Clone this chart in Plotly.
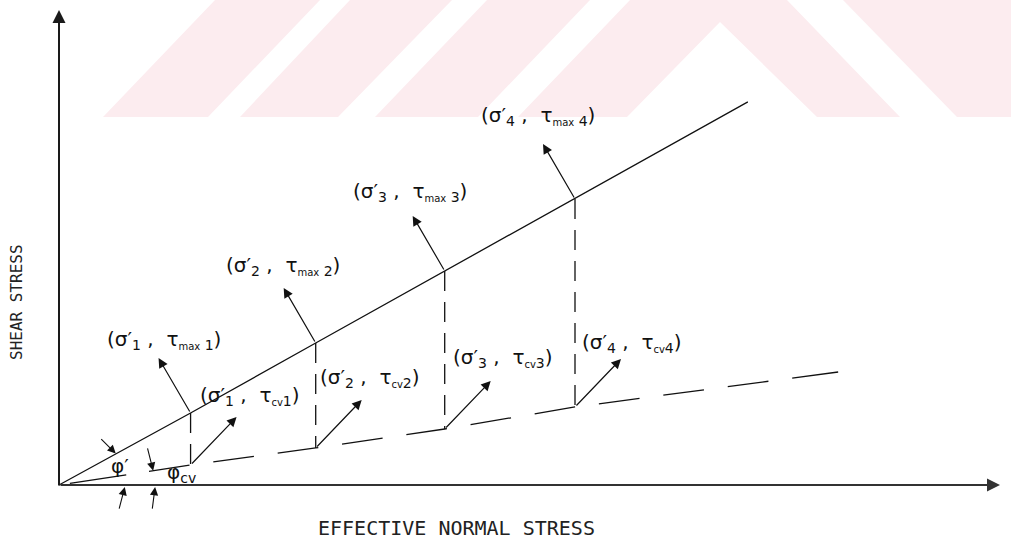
import plotly.graph_objects as go

# ---- data: effective normal stress and shear stresses at four tests ----
sigma = [1.02, 1.99, 2.99, 4.0]           # effective normal stress
tau_max = [0.558, 1.101, 1.659, 2.217]    # peak shear stress
tau_cv = [0.155, 0.287, 0.434, 0.605]     # constant-volume shear stress
test_ids = ["1", "2", "3", "4"]

env_end = (5.34, 2.97)    # far end of the peak envelope
cv_end = (6.04, 0.876)    # far end of the constant-volume envelope

# ---- layout constants ----
W, H = 1011, 539
PX = 129.0                 # pixels per stress unit on both axes
X0, Y0 = 59, 485           # origin in pixels
xr = [-X0 / PX, (W - X0) / PX]
yr = [-(H - Y0) / PX, Y0 / PX]

INK = "#111111"
TEXT_FONT = dict(family="DejaVu Sans", size=20, color=INK)

fig = go.Figure()

# peak envelope through the origin
fig.add_trace(go.Scatter(
    x=[0] + sigma + [env_end[0]], y=[0] + tau_max + [env_end[1]],
    mode="lines", line=dict(color=INK, width=1.3), hoverinfo="skip"))

# constant-volume envelope, long dashes
dash_cv = [0, 11, 57, 23] + [41, 24] * 10 + [60, 10]
fig.add_trace(go.Scatter(
    x=[0] + sigma + [cv_end[0]], y=[0] + tau_cv + [cv_end[1]],
    mode="lines",
    line=dict(color=INK, width=1.3, dash=",".join(f"{d}px" for d in dash_cv)),
    hoverinfo="skip"))

# dashed drops from each peak point to its constant-volume point
for s, tm, tc in zip(sigma, tau_max, tau_cv):
    fig.add_trace(go.Scatter(
        x=[s, s], y=[tm, tc], mode="lines",
        line=dict(color=INK, width=1.3, dash="20px,11px"), hoverinfo="skip"))

ann = []


def arrow(x, y, ax, ay, xshift=0, yshift=0, width=1.2, size=1.6, color=INK, head=2):
    """Arrow whose head sits at (x, y) shifted by (xshift, yshift) px; tail ax/ay px away."""
    ann.append(dict(x=x, y=y, xref="x", yref="y", text="", showarrow=True,
                    ax=ax, ay=ay, xshift=xshift, yshift=yshift,
                    arrowhead=head, arrowsize=size, arrowwidth=width,
                    arrowcolor=color, standoff=0, startstandoff=0))


# axes drawn as arrows
arrow(0, (Y0 - 10) / PX, 0, Y0 - 8, width=2, size=1.3, color="#1a1a1a")
arrow((1000 - X0) / PX, 0, -(1000 - X0), 0, width=2, size=1.3, color="#333333")

# arrows pointing to the coordinate labels
for s, tm, tc in zip(sigma, tau_max, tau_cv):
    arrow(s, tm, 32, 55, xshift=-32, yshift=55)
    arrow(s, tc, -46, 48, xshift=46, yshift=48)

# friction angle markers
slope_p = tau_max[-1] / sigma[-1]
slope_cv = tau_cv[-1] / sigma[-1]
arrow(0.44, 0.44 * slope_p, -16, -16, width=1.1, size=1.5)
arrow(0.73, 0.73 * slope_cv, -6, -24, width=1.1, size=1.5)
arrow(0.51, -0.016, -6, 23, width=1.1, size=1.5)
arrow(0.745, -0.016, -3, 23, width=1.1, size=1.5)

# point labels
up_off = [(-27, -73), (-33, -77), (-35, -79), (-37, -83)]
lo_off = [(59, -69), (54, -70), (58, -71), (57, -64)]
for i, (s, tm, tc) in enumerate(zip(sigma, tau_max, tau_cv)):
    k = test_ids[i]
    ann.append(dict(
        x=s, y=tm, xref="x", yref="y", showarrow=False,
        xshift=up_off[i][0], yshift=-up_off[i][1],
        text=f"(σ′<sub>{k}</sub> ,  τ<sub><span style='font-size:10px'>max</span> {k}</sub>)",
        font=TEXT_FONT, xanchor="center", yanchor="middle"))
    ann.append(dict(
        x=s, y=tc, xref="x", yref="y", showarrow=False,
        xshift=lo_off[i][0], yshift=-lo_off[i][1],
        text=f"(σ′<sub>{k}</sub> ,  τ<sub><span style='font-size:10px'>cv</span>{k}</sub>)",
        font=TEXT_FONT, xanchor="center", yanchor="middle"))

ann.append(dict(x=0.47, y=0.15, xref="x", yref="y", showarrow=False,
                text="φ′", font=TEXT_FONT))
ann.append(dict(x=0.95, y=0.095, xref="x", yref="y", showarrow=False,
                text="φ<sub>cv</sub>", font=TEXT_FONT))

# axis titles
ann.append(dict(x=16 / W, y=1 - 302 / H, xref="paper", yref="paper",
                xanchor="center", yanchor="middle",
                showarrow=False, text="SHEAR STRESS", textangle=-90,
                font=dict(family="DejaVu Sans Mono", size=16, color="#222222")))
ann.append(dict(x=456 / W, y=1 - 528 / H, xref="paper", yref="paper",
                xanchor="center", yanchor="middle",
                showarrow=False, text="EFFECTIVE NORMAL STRESS",
                font=dict(family="DejaVu Sans Mono", size=20, color="#222222")))

# faint stripe band across the top
band = [
    [(103, 117), (208, 117), (320, 0), (215, 0)],
    [(240, 117), (338, 117), (452, 0), (350, 0)],
    [(375, 117), (478, 117), (590, 0), (487, 0)],
    [(518, 117), (630, 0), (787, 0), (900, 117), (817, 117), (720, 22), (627, 117)],
    [(843, 0), (1011, 0), (1011, 117), (957, 117)],
]
shapes = []
for poly in band:
    path = "M " + " L ".join(f"{px / W:.5f},{1 - py / H:.5f}" for px, py in poly) + " Z"
    shapes.append(dict(type="path", xref="paper", yref="paper", path=path,
                       fillcolor="rgb(252,236,239)", line=dict(width=0), layer="below"))

fig.update_layout(
    width=W, height=H, margin=dict(l=0, r=0, t=0, b=0),
    paper_bgcolor="white", plot_bgcolor="white", showlegend=False,
    xaxis=dict(range=xr, visible=False, fixedrange=True),
    yaxis=dict(range=yr, visible=False, fixedrange=True),
    annotations=ann, shapes=shapes,
)

fig.write_html("out.html")
